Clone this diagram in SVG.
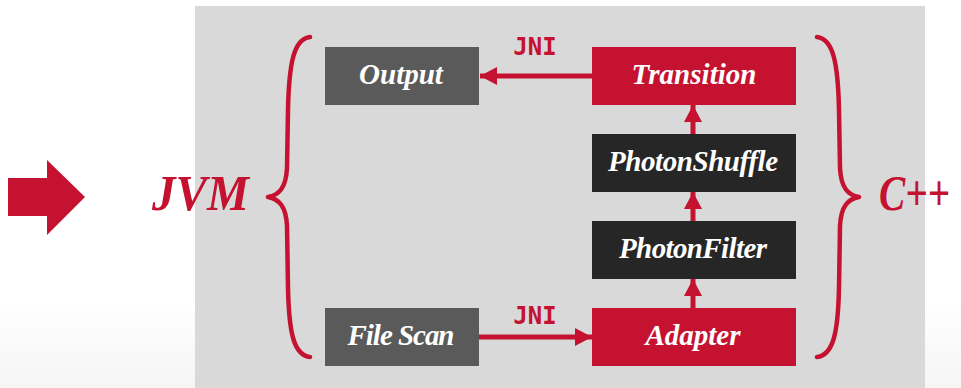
<svg xmlns="http://www.w3.org/2000/svg" width="961" height="388" viewBox="0 0 961 388">
<defs>
<linearGradient id="bg" x1="0" y1="0" x2="0" y2="1">
<stop offset="0" stop-color="#ffffff"/>
<stop offset="1" stop-color="#f5f5f5"/>
</linearGradient>
<marker id="ah" viewBox="0 0 17 18" refX="17" refY="9" markerWidth="17" markerHeight="18" markerUnits="userSpaceOnUse" orient="auto">
<path d="M0,0 L17,9 L0,18 Z" fill="#c41230"/>
</marker>
<style>
.box-red{fill:#c41230}
.box-grey{fill:#5a5a5a}
.box-dark{fill:#262626}
.lbl{font-family:"Liberation Serif","Times New Roman",serif;font-style:italic;font-weight:bold;font-size:29px;fill:#ffffff;text-anchor:middle}
.big{font-family:"Liberation Serif","Times New Roman",serif;font-style:italic;font-weight:bold;font-size:51px;fill:#c41230}
.jni{font-family:"DejaVu Sans Mono",monospace;font-weight:bold;font-size:24px;fill:#c41230;text-anchor:middle}
.conn{stroke:#c41230;stroke-width:5;fill:none;marker-end:url(#ah)}
.brace{stroke:#c41230;stroke-width:4.5;fill:none;stroke-linecap:round;stroke-linejoin:round}
</style>
</defs>
<rect x="0" y="300" width="961" height="88" fill="url(#bg)"/>
<rect x="195" y="6" width="730" height="382" fill="#d9d9d9"/>

<g id="big-arrow">
<path d="M8,178 L47,178 L47,160 L85,197 L47,235 L47,216 L8,216 Z" fill="#c41230"/>
</g>

<g id="jvm-label"><text class="big" x="152" y="210" textLength="97" lengthAdjust="spacingAndGlyphs">JVM</text></g>
<g id="cpp-label"><text class="big" transform="translate(879,210) scale(0.77,1)" x="0" y="0" font-size="50">C++</text></g>

<g id="braces">
<path class="brace" d="M310,37 C294,39 289,62 288,110 L287,168 C286,188 279,195 268,197 C279,199 286,206 287,226 L288,288 C289,334 294,355 310,357"/>
<path class="brace" transform="translate(1127,0) scale(-1,1)" d="M310,37 C294,39 289,62 288,110 L287,168 C286,188 279,195 268,197 C279,199 286,206 287,226 L288,288 C289,334 294,355 310,357"/>
</g>

<g id="connectors">
<line class="conn" x1="592" y1="76" x2="480" y2="76"/>
<line class="conn" x1="479" y1="337" x2="592" y2="337"/>
<line class="conn" x1="693" y1="308" x2="693" y2="279"/>
<line class="conn" x1="693" y1="221" x2="693" y2="192"/>
<line class="conn" x1="693" y1="134" x2="693" y2="105"/>
<text class="jni" x="535" y="55">JNI</text>
<text class="jni" x="535" y="324">JNI</text>
</g>

<g id="output">
<rect class="box-grey" x="325" y="47" width="154" height="58"/>
<text class="lbl" x="401" y="84">Output</text>
</g>
<g id="transition">
<rect class="box-red" x="592" y="47" width="204" height="58"/>
<text class="lbl" x="694" y="84" textLength="125">Transition</text>
</g>
<g id="photonshuffle">
<rect class="box-dark" x="592" y="134" width="204" height="58"/>
<text class="lbl" x="693" y="171" textLength="170">PhotonShuffle</text>
</g>
<g id="photonfilter">
<rect class="box-dark" x="592" y="221" width="204" height="58"/>
<text class="lbl" x="693" y="258" textLength="148">PhotonFilter</text>
</g>
<g id="adapter">
<rect class="box-red" x="592" y="308" width="204" height="58"/>
<text class="lbl" x="693" y="345">Adapter</text>
</g>
<g id="filescan">
<rect class="box-grey" x="325" y="308" width="154" height="58"/>
<text class="lbl" x="401" y="345" textLength="107">File Scan</text>
</g>
</svg>
